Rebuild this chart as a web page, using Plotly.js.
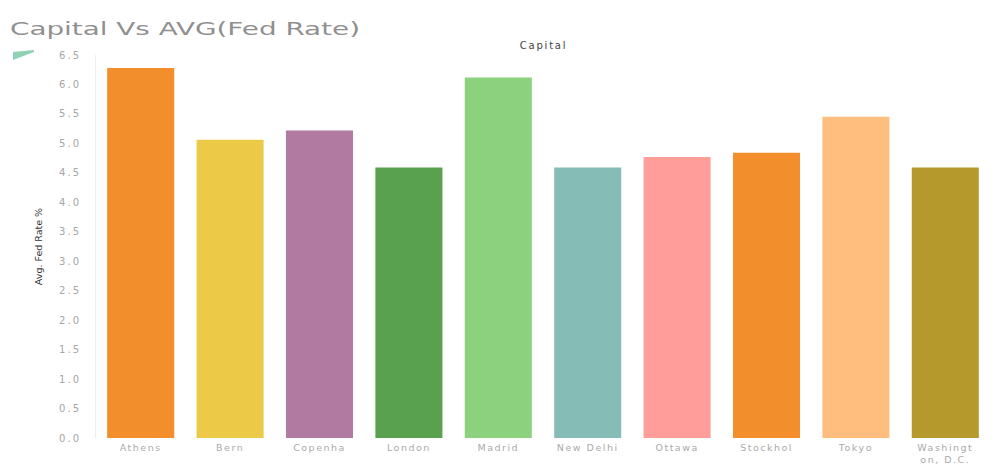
<!DOCTYPE html>
<html>
<head>
<meta charset="utf-8">
<script src="https://cdn.plot.ly/plotly-3.0.1.min.js"></script>
<style>
  html, body { margin: 0; padding: 0; background: #fff; }
  #chart { width: 991px; height: 464px; }
  #chart .xtick text { letter-spacing: 1.5px; }
  #chart .ytick text { letter-spacing: 2px; }
  #chart .annotation-text { letter-spacing: 1.8px; }
</style>
</head>
<body>
<div id="chart"></div>
<script>
// Average fed rate per capital city
const capitals = ["Athens", "Bern", "Copenhagen", "London", "Madrid", "New Delhi",
                  "Ottawa", "Stockholm", "Tokyo", "Washington, D.C."];
const tickLabels = ["Athens", "Bern", "Copenha", "London", "Madrid", "New Delhi",
                    "Ottawa", "Stockhol", "Tokyo", "Washingt<br>on, D.C."];
const avgFedRate = [6.28, 5.06, 5.22, 4.59, 6.12, 4.59, 4.77, 4.84, 5.45, 4.59];
const barColors = ["#F28E2B", "#EDC948", "#B07AA1", "#59A14F", "#8CD17D", "#86BCB6",
                   "#FF9D9A", "#F28E2B", "#FFBE7D", "#B6992D"];
const yTicks = [0, 0.5, 1, 1.5, 2, 2.5, 3, 3.5, 4, 4.5, 5, 5.5, 6, 6.5];

const trace = {
  type: "bar",
  x: capitals,
  y: avgFedRate,
  marker: { color: barColors },
  hoverinfo: "x+y"
};

const layout = {
  width: 991,
  height: 464,
  margin: { l: 96, r: 1, t: 55, b: 26 },
  paper_bgcolor: "#ffffff",
  plot_bgcolor: "#ffffff",
  bargap: 0.25,
  showlegend: false,
  font: { family: "DejaVu Sans, sans-serif", color: "#999" },
  title: {
    text: "Capital Vs AVG(Fed Rate)",
    x: 10 / 991, xanchor: "left", xref: "container",
    y: 1 - 29 / 464, yanchor: "middle", yref: "container",
    font: { family: "DejaVu Sans, sans-serif", size: 17, color: "#909090" }
  },
  xaxis: {
    type: "category",
    tickmode: "array",
    tickvals: capitals,
    ticktext: tickLabels,
    tickfont: { size: 9.5, color: "#aaaaaa" },
    ticklabelstandoff: 2,
    showgrid: false,
    showline: false,
    zeroline: false,
    ticks: ""
  },
  yaxis: {
    range: [0, 6.5],
    tickmode: "array",
    tickvals: yTicks,
    ticktext: yTicks.map(v => v.toFixed(1)),
    tickfont: { size: 10, color: "#a6a6a6" },
    ticks: "",
    showgrid: false,
    zeroline: false,
    showline: true,
    linecolor: "#eeeeee",
    linewidth: 1,
    ticklabelstandoff: 12,
    title: {
      text: "Avg. Fed Rate %",
      standoff: 20,
      font: { family: "DejaVu Sans, sans-serif", size: 9.5, color: "#333" }
    }
  },
  shapes: [
    {
      // small striped wedge glyph at the top-left corner
      type: "path",
      xref: "paper", yref: "paper",
      xsizemode: "pixel", ysizemode: "pixel",
      xanchor: 0, yanchor: 1,
      path: "M -83 -5 L -83 3 L -62 5 L -62 3 Z",
      fillcolor: "#8fd3b4",
      line: { width: 0 }
    }
  ],
  annotations: [
    {
      text: "Capital",
      xref: "paper", yref: "paper",
      x: 0.5, y: 1, yshift: 10,
      xanchor: "center", yanchor: "middle",
      showarrow: false,
      font: { family: "DejaVu Sans, sans-serif", size: 10, color: "#444" }
    }
  ]
};

Plotly.newPlot("chart", [trace], layout, { displayModeBar: false, staticPlot: true })
  .then(gd => {
    // widen the title glyphs to span the header
    const t = gd.querySelector(".gtitle");
    if (t) {
      t.setAttribute("textLength", "350");
      t.setAttribute("lengthAdjust", "spacingAndGlyphs");
    }
  });
</script>
</body>
</html>
